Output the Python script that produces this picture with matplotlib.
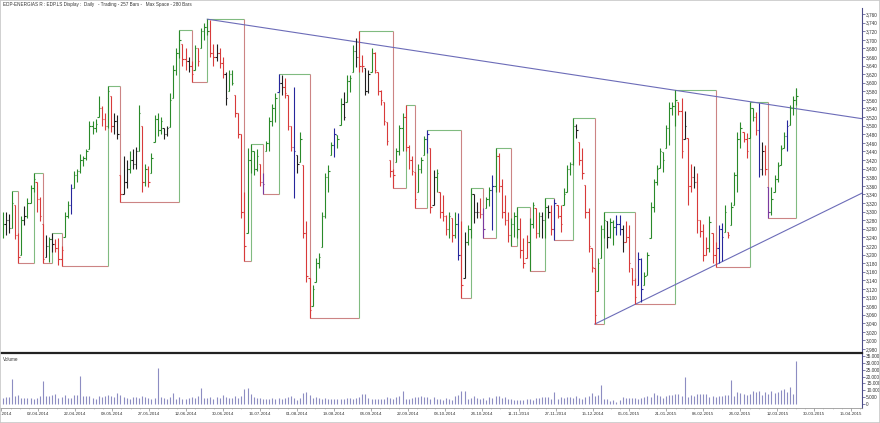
import matplotlib
matplotlib.use('Agg')
import matplotlib.pyplot as plt
from matplotlib.collections import LineCollection
from matplotlib.ticker import FixedLocator, FuncFormatter
import numpy as np

# --- DATA (one value per daily bar) ---
TITLE = "EDP-ENERGIAS R : EDP.LS Display :  Daily   - Trading - 257 Bars -   Max Space - 280 Bars"

HIGH = [
    3300, 3300, 3295, 3348, 3315, 3250, 3290, 3312, 3331, 3362,
    3389, 3370, 3335, 3270, 3245, 3240, 3249, 3235, 3238, 3220,
    3300, 3325, 3365, 3395, 3400, 3435, 3430, 3445, 3510, 3510,
    3515, 3570, 3545, 3530, 3592, 3570, 3530, 3525, 3385, 3430,
    3420, 3440, 3445, 3450, 3548, 3500, 3410, 3405, 3436, 3525,
    3530, 3520, 3495, 3500, 3575, 3641, 3680, 3723, 3690, 3680,
    3660, 3650, 3688, 3680, 3727, 3740, 3748, 3745, 3690, 3690,
    3680, 3660, 3625, 3630, 3630, 3571, 3530, 3480, 3346, 3447,
    3457, 3440, 3445, 3410, 3390, 3465, 3520, 3550, 3575, 3620,
    3618, 3610, 3571, 3500, 3591, 3432, 3486, 3408, 3277, 3145,
    3130, 3191, 3203, 3300, 3389, 3408, 3463, 3494, 3478, 3564,
    3579, 3618, 3618, 3688, 3703, 3720, 3665, 3634, 3630, 3680,
    3672, 3626, 3583, 3556, 3509, 3420, 3400, 3447, 3502, 3530,
    3548, 3455, 3430, 3393, 3410, 3428, 3477, 3489, 3447, 3397,
    3400, 3346, 3339, 3292, 3300, 3284, 3300, 3296, 3277, 3253,
    3269, 3354, 3342, 3323, 3331, 3308, 3335, 3358, 3385, 3447,
    3436, 3377, 3339, 3300, 3284, 3300, 3311, 3284, 3238, 3246,
    3284, 3323, 3308, 3300, 3300, 3332, 3315, 3315, 3330, 3315,
    3315, 3354, 3408, 3416, 3519, 3505, 3463, 3447, 3362, 3308,
    3215, 3168, 3191, 3269, 3298, 3277, 3284, 3280, 3293, 3292,
    3269, 3277, 3269, 3168, 3145, 3207, 3191, 3160, 3207, 3323,
    3377, 3408, 3447, 3439, 3502, 3556, 3556, 3583, 3556, 3564,
    3535, 3471, 3410, 3405, 3390, 3280, 3270, 3240, 3290, 3250,
    3230, 3269, 3273, 3315, 3253, 3323, 3393, 3486, 3509, 3486,
    3482, 3556, 3540, 3533, 3552, 3463, 3455, 3358, 3358, 3385,
    3416, 3455, 3486, 3513, 3548, 3568, 3587,
]
LOW = [
    3238, 3245, 3250, 3262, 3235, 3180, 3200, 3269, 3284, 3320,
    3345, 3300, 3277, 3180, 3195, 3182, 3205, 3205, 3176, 3173,
    3240, 3285, 3295, 3355, 3370, 3390, 3405, 3420, 3445, 3480,
    3485, 3520, 3500, 3490, 3495, 3485, 3480, 3470, 3323, 3340,
    3355, 3390, 3400, 3400, 3440, 3346, 3360, 3358, 3390, 3463,
    3475, 3480, 3470, 3475, 3498, 3564, 3618, 3657, 3640, 3630,
    3625, 3601, 3630, 3640, 3680, 3700, 3710, 3660, 3640, 3650,
    3634, 3610, 3548, 3580, 3595, 3520, 3471, 3284, 3185, 3250,
    3390, 3385, 3395, 3360, 3340, 3440, 3440, 3500, 3509, 3579,
    3571, 3565, 3490, 3440, 3331, 3389, 3416, 3238, 3137, 3053,
    3080, 3137, 3168, 3218, 3284, 3346, 3432, 3428, 3447, 3502,
    3513, 3556, 3579, 3626, 3637, 3626, 3626, 3571, 3575, 3626,
    3622, 3571, 3548, 3502, 3455, 3380, 3356, 3416, 3432, 3440,
    3440, 3400, 3385, 3308, 3346, 3390, 3432, 3436, 3296, 3315,
    3346, 3284, 3277, 3246, 3238, 3230, 3238, 3187, 3098, 3145,
    3222, 3238, 3273, 3284, 3284, 3238, 3308, 3312, 3257, 3346,
    3346, 3284, 3269, 3230, 3220, 3240, 3238, 3191, 3168, 3191,
    3162, 3261, 3238, 3240, 3238, 3238, 3284, 3246, 3234, 3284,
    3253, 3315, 3346, 3385, 3409, 3471, 3409, 3377, 3284, 3207,
    3160, 3038, 3114, 3191, 3238, 3215, 3238, 3222, 3246, 3246,
    3207, 3230, 3160, 3129, 3084, 3129, 3090, 3129, 3153, 3238,
    3300, 3362, 3401, 3393, 3447, 3455, 3525, 3500, 3525, 3424,
    3470, 3315, 3345, 3355, 3250, 3240, 3185, 3200, 3205, 3180,
    3172, 3180, 3185, 3253, 3238, 3269, 3315, 3346, 3447, 3463,
    3424, 3471, 3510, 3478, 3381, 3385, 3385, 3284, 3292, 3346,
    3370, 3408, 3447, 3440, 3502, 3525, 3548,
]
CLOSE = [
    3270, 3280, 3262, 3320, 3245, 3195, 3280, 3290, 3320, 3355,
    3375, 3330, 3290, 3190, 3220, 3235, 3225, 3215, 3190, 3210,
    3290, 3315, 3355, 3385, 3395, 3420, 3425, 3440, 3500, 3495,
    3505, 3540, 3515, 3500, 3580, 3500, 3510, 3480, 3340, 3370,
    3400, 3420, 3410, 3440, 3530, 3370, 3400, 3370, 3425, 3515,
    3490, 3510, 3480, 3495, 3560, 3630, 3670, 3700, 3655, 3650,
    3640, 3620, 3680, 3650, 3720, 3730, 3720, 3670, 3660, 3670,
    3645, 3620, 3565, 3620, 3600, 3530, 3480, 3300, 3220, 3420,
    3440, 3400, 3430, 3370, 3365, 3460, 3510, 3540, 3565, 3600,
    3590, 3575, 3500, 3450, 3440, 3410, 3470, 3250, 3150, 3070,
    3120, 3180, 3195, 3290, 3380, 3395, 3455, 3480, 3470, 3550,
    3520, 3605, 3610, 3675, 3660, 3640, 3640, 3580, 3620, 3670,
    3630, 3580, 3560, 3510, 3465, 3395, 3385, 3440, 3495, 3520,
    3450, 3420, 3395, 3330, 3400, 3420, 3470, 3480, 3310, 3380,
    3390, 3300, 3290, 3260, 3290, 3245, 3270, 3200, 3130, 3230,
    3260, 3340, 3300, 3300, 3295, 3260, 3330, 3350, 3360, 3430,
    3360, 3300, 3280, 3245, 3270, 3290, 3260, 3210, 3180, 3230,
    3270, 3315, 3250, 3290, 3280, 3310, 3300, 3260, 3320, 3290,
    3270, 3340, 3400, 3410, 3500, 3490, 3420, 3390, 3300, 3220,
    3170, 3060, 3180, 3260, 3280, 3240, 3275, 3265, 3270, 3260,
    3230, 3240, 3180, 3140, 3100, 3190, 3120, 3150, 3200, 3310,
    3370, 3400, 3440, 3420, 3495, 3540, 3545, 3560, 3535, 3440,
    3500, 3360, 3380, 3370, 3280, 3255, 3200, 3215, 3275, 3200,
    3215, 3260, 3240, 3300, 3245, 3310, 3385, 3470, 3495, 3470,
    3440, 3540, 3520, 3490, 3400, 3440, 3400, 3300, 3330, 3375,
    3405, 3445, 3475, 3500, 3540, 3560, 3570,
]
# bar colour class: g up, r down, k neutral, b / p signal bars
BAR_CLASS = (
    "gkkgrrgkgg" "grrrkgkrrr" "ggbggggggg" "ggrrgrkkrk" "kgkkgrgrgg"
    "ggkkggggrr" "krgrgggrrk" "rrkggrrrrg" "gggrpggggb" "krrrbkgrrr"
    "gggggggbgg" "kgggkrrkkg" "rrrrrrrggg" "rrrrgggbrk" "grrrgrgbrk"
    "ggkkrpggbg" "rrrrgggrrr" "ggrgkgkrbr" "rggggkrrrr" "rrgggkggbb"
    "krrrrbbggg" "ggggggggrr" "krrkrrrrgr" "rbbgrggggr" "rggrbkrpgg"
    "gggbggg"
)
VOLUME = [
    4200, 4800, 5300, 18300, 6000, 6600, 4700, 4500, 4100, 4600,
    3800, 4400, 5500, 16700, 6000, 6200, 6800, 7200, 4500, 5400,
    6700, 4600, 4300, 6500, 6400, 20700, 5800, 5500, 5900, 4500,
    4000, 5900, 5200, 5800, 6900, 5500, 5000, 8200, 6300, 5100,
    4400, 3700, 4900, 5200, 4300, 5900, 4800, 4700, 3600, 4500,
    26000, 4800, 4300, 3900, 5200, 7800, 3900, 4800, 3600, 3800,
    4100, 5000, 4600, 5700, 11600, 4200, 4300, 5200, 3700, 5000,
    4500, 6800, 4900, 4300, 4100, 5600, 4300, 6200, 11000, 11800,
    7600, 5400, 4600, 4100, 3900, 3600, 4000, 4300, 3900, 4700,
    3600, 4200, 5100, 6100, 4300, 3200, 4200, 8200, 8800, 6900,
    4200, 4800, 4600, 3800, 4400, 3400, 3700, 3500, 3600, 3400,
    3900, 4500, 4200, 3700, 4300, 5000, 7000, 7300, 4500, 3900,
    3400, 3900, 3600, 3800, 5000, 4300, 3900, 5300, 5600, 9400,
    3700, 3800, 4500, 4900, 5300, 6000, 5200, 4900, 4000, 5400,
    3900, 3800, 3200, 4500, 3600, 3100, 5500, 6700, 9600, 9300,
    4000, 4300, 6000, 4700, 3900, 4100, 3200, 5300, 4700, 5500,
    5600, 4100, 4800, 3500, 3300, 2900, 2800, 2900, 3100, 3500,
    3600, 3200, 4100, 4200, 4800, 5100, 5000, 3800, 8900, 3500,
    5000, 4400, 4900, 5300, 4700, 5700, 4300, 4000, 5300, 6100,
    8200, 5500, 6600, 13800, 3300, 3400, 2200, 2800, 1700, 2600,
    5300, 4200, 4400, 4500, 4300, 3800, 4600, 5100, 5600, 4800,
    7700, 6900, 5700, 4200, 5600, 6300, 6500, 7300, 7000, 5700,
    19600, 5100, 6600, 6200, 7500, 7400, 7600, 7200, 5000, 5600,
    5400, 6100, 5800, 6300, 6600, 17800, 6200, 8900, 7700, 7100,
    6400, 7200, 9800, 8600, 9400, 6700, 8400, 7200, 9500, 8000,
    9100, 10300, 10800, 8900, 12200, 7300, 31000,
]
# swing pivots of the LS display (alternating high / low, first one a high)
SWING_BARS = [3, 5, 10, 13, 16, 19, 34, 38, 57, 61, 66, 78, 80, 84, 89, 99,
              115, 126, 130, 133, 137, 148, 151, 155, 159, 164, 166, 170,
              175, 178, 184, 191, 194, 204, 217, 230, 241, 247, 256]
# trendlines: resistance through two highs, support through two lows
RESIST_BARS = [66, 241]
SUPPORT_BARS = [191, 204]

DATE_LABELS = ["17-03-2014", "02-04-2014", "22-04-2014", "09-05-2014", "27-05-2014",
               "12-06-2014", "30-06-2014", "16-07-2014", "01-08-2014", "19-08-2014",
               "04-09-2014", "22-09-2014", "08-10-2014", "24-10-2014", "11-11-2014",
               "27-11-2014", "15-12-2014", "05-01-2015", "21-01-2015", "06-02-2015",
               "24-02-2015", "12-03-2015", "30-03-2015", "15-04-2015"]

# --- STYLE ---
plt.rcParams['font.family'] = ['Liberation Sans', 'DejaVu Sans']
BAR_COLORS = {'g': '#2a8a2a', 'r': '#d83a3a', 'k': '#1e1e1e', 'b': '#26269c', 'p': '#7a3aa0'}
UP_BOX = '#80bb80'
DN_BOX = '#cc8484'
TREND = '#6c6cb8'
AXIS = '#4c4c88'
TXT = '#333333'

W, H = 880, 423
fig = plt.figure(figsize=(W / 100, H / 100), dpi=100)


def px_rect(left, top, right, bottom):
    return [left / W, 1 - bottom / H, (right - left) / W, (bottom - top) / H]


ax = fig.add_axes(px_rect(0, 8, 862, 352.7))
axv = fig.add_axes(px_rect(0, 352.7, 862, 408), sharex=ax)

n = len(CLOSE)
xs = np.arange(n)
XMIN, XMAX = -0.87, 277.2

# --- OHLC bars ---
cols = [BAR_COLORS[c] for c in BAR_CLASS]
segs, tick_cols = [], []
for i in range(n):
    segs.append([(i, LOW[i]), (i, HIGH[i])])
    segs.append([(i, CLOSE[i]), (i + 0.45, CLOSE[i])])
    tick_cols += [cols[i], cols[i]]
    if i > 0:
        op = min(max(CLOSE[i - 1], LOW[i]), HIGH[i])
        segs.append([(i - 0.45, op), (i, op)])
        tick_cols.append(cols[i])
ax.add_collection(LineCollection(segs, colors=tick_cols, linewidths=0.8, zorder=4))

# --- swing step line (boxes) ---
levels = [HIGH[b] if k % 2 == 0 else LOW[b] for k, b in enumerate(SWING_BARS)]
for k in range(len(SWING_BARS) - 1):
    b0, b1 = SWING_BARS[k], SWING_BARS[k + 1]
    is_high = (k % 2 == 0)
    ax.plot([b0, b1], [levels[k], levels[k]], color=UP_BOX if is_high else DN_BOX,
            lw=0.8, zorder=2, solid_capstyle='butt')
    ax.plot([b1, b1], [levels[k], levels[k + 1]], color=DN_BOX if is_high else UP_BOX,
            lw=0.8, zorder=2, solid_capstyle='butt')

# --- trendlines ---
for (b0, b1), src in ((RESIST_BARS, HIGH), (SUPPORT_BARS, LOW)):
    slope = (src[b1] - src[b0]) / (b1 - b0)
    ax.plot([b0, XMAX], [src[b0], src[b0] + slope * (XMAX - b0)], color=TREND, lw=0.8, zorder=3)

ax.set_xlim(XMIN, XMAX)
ax.set_ylim(2971.4, 3774)
ax.yaxis.tick_right()
ax.yaxis.set_major_locator(FixedLocator(np.arange(2980, 3761, 20)))
ax.yaxis.set_major_formatter(FuncFormatter(lambda v, p: f"{v:,.0f}"))
ax.tick_params(axis='y', direction='out', length=2, width=0.5, pad=1, labelsize=3.4,
               color=AXIS, labelcolor=TXT)
ax.tick_params(axis='x', bottom=False, labelbottom=False)
for s in ('top', 'left', 'bottom'):
    ax.spines[s].set_visible(False)
ax.spines['right'].set_color(AXIS)
ax.spines['right'].set_linewidth(0.8)

# --- volume ---
axv.vlines(xs, 0, VOLUME, colors='#8d8dc2', lw=0.8)
axv.set_ylim(-2900, 37400)
axv.yaxis.tick_right()
axv.yaxis.set_major_locator(FixedLocator(np.arange(0, 35001, 5000)))
axv.yaxis.set_major_formatter(FuncFormatter(lambda v, p: f"{v:,.0f}".replace(",", ".")))
axv.tick_params(axis='y', direction='out', length=2, width=0.5, pad=1, labelsize=3.4,
                color=AXIS, labelcolor=TXT)
axv.xaxis.set_major_locator(FixedLocator([-0.45 + 11.92 * k for k in range(len(DATE_LABELS))]))
axv.xaxis.set_minor_locator(FixedLocator([-0.45 + 2.98 * k for k in range(4 * len(DATE_LABELS))]))
axv.set_xticklabels(DATE_LABELS)
axv.tick_params(axis='x', direction='out', length=2, width=0.5, pad=1, labelsize=3.2,
                color='#888888', labelcolor=TXT)
axv.tick_params(axis='x', which='minor', length=1, width=0.4, color='#aaaaaa')
axv.spines['left'].set_visible(False)
axv.spines['top'].set_color('#222222')
axv.spines['top'].set_linewidth(1.6)
axv.spines['right'].set_color(AXIS)
axv.spines['right'].set_linewidth(0.8)
axv.spines['bottom'].set_color('#999999')
axv.spines['bottom'].set_linewidth(0.6)
axv.text(0.004, 0.93, "Volume", transform=axv.transAxes, fontsize=3.3, color=TXT, va='top')

fig.text(3 / W, 1 - 4.5 / H, TITLE, fontsize=3.3, color=TXT, va='center')
fig.patches.append(plt.Rectangle((0, 0), 1, 1, transform=fig.transFigure, fill=False,
                                 edgecolor='#c8c8c8', lw=1.2))

fig.savefig('out.png', dpi=100)
